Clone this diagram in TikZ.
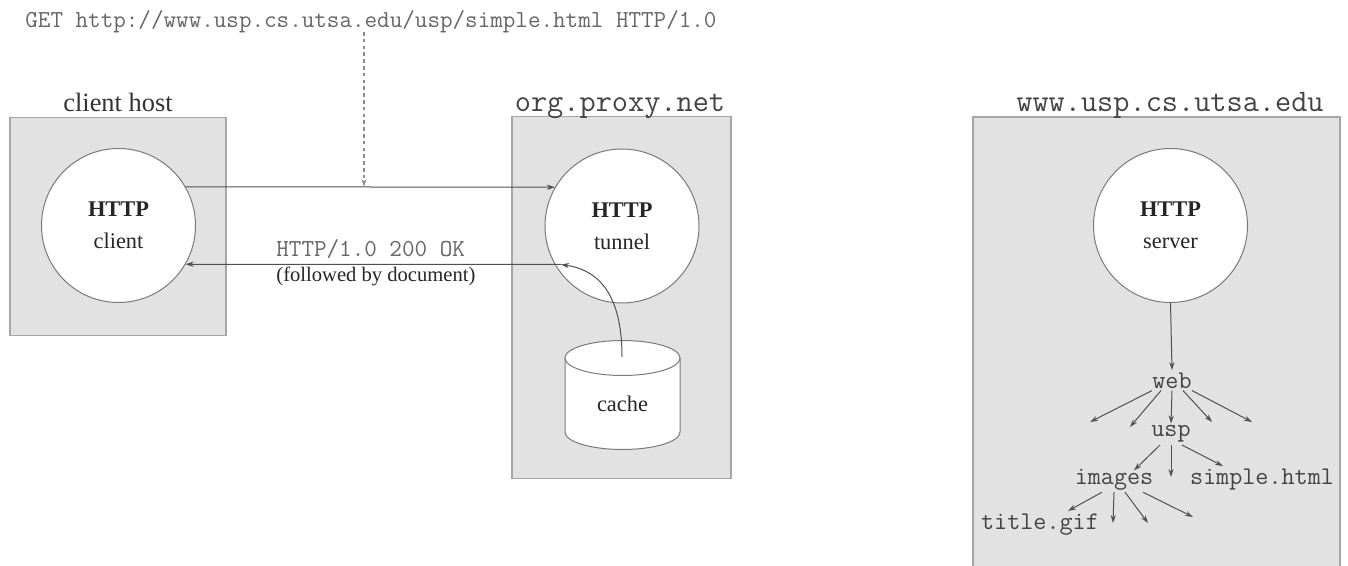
\documentclass[tikz,border=0pt]{standalone}
\usepackage{fontspec}
\setmainfont{Liberation Serif}
\usetikzlibrary{arrows.meta,calc}
\definecolor{boxfill}{HTML}{E2E2E2}
\definecolor{boxline}{HTML}{A6A6A6}
\definecolor{circline}{HTML}{7A7A7A}
\definecolor{lncol}{HTML}{505050}
\definecolor{monotext}{HTML}{666666}
\definecolor{treetext}{HTML}{444444}
\begin{document}
\begin{tikzpicture}[x=0.5pt,y=-0.5pt,
  hostbox/.style={draw=boxline,fill=boxfill,line width=0.6pt,inner sep=0pt},
  proc/.style={circle,draw=circline,fill=white,line width=0.5pt,minimum size=77pt,inner sep=0pt,align=center,text=black!85,font=\fontsize{11.2}{16}\selectfont},
  arr/.style={draw=lncol,line width=0.5pt,-{Stealth[length=4pt,width=2.6pt]}},
  hostlabel/.style={font=\ttfamily\fontsize{15.7}{17}\selectfont,text=treetext,inner sep=0pt,anchor=base},
  tree/.style={font=\ttfamily\fontsize{12.7}{14}\selectfont,text=treetext,inner sep=1pt,anchor=base},
  msg/.style={font=\ttfamily\fontsize{12.2}{13}\selectfont,text=monotext,inner sep=0pt,anchor=base west},
]
\useasboundingbox[fill=white] (0,0) rectangle (1348,566);

% host boxes
\node[hostbox,minimum width=108pt,minimum height=109pt] (cbox) at (118,226.5) {};
\node[hostbox,minimum width=109.5pt,minimum height=181pt] (pbox) at (621.5,297.5) {};
\node[hostbox,minimum width=183.5pt,minimum height=241.5pt] (sbox) at (1156.5,358.5) {};

% host labels
\node[font=\fontsize{13.2}{15}\selectfont,text=black!80,inner sep=0pt,anchor=base] (chl) at (118,112) {client host};
\node[hostlabel] (phl) at (620,112) {org.proxy.net};
\node[hostlabel] (shl) at (1170,112) {www.usp.cs.utsa.edu};

% processes
\node[proc] (client) at (118.5,225.5) {\textbf{HTTP}\\client};
\node[proc] (tunnel) at (622,226) {\textbf{HTTP}\\tunnel};
\node[proc] (server) at (1170.5,225.5) {\textbf{HTTP}\\server};

% cache cylinder
\path[fill=white,draw=circline,line width=0.5pt] (565,358) -- (565,432)
  arc[start angle=180,end angle=360,x radius=28.75pt,y radius=8.75pt] -- (680,358);
\draw[fill=white,draw=circline,line width=0.5pt] (622.5,358) ellipse [x radius=28.75pt,y radius=8.75pt];
\node[font=\fontsize{11.2}{13}\selectfont,text=black!85,inner sep=0pt] (cache) at (622.5,404) {cache};
\coordinate (ctop) at (622,357);

% messages
\node[msg] (get) at (25,28) {GET http://www.usp.cs.utsa.edu/usp/simple.html HTTP/1.0};
\node[msg] (ok) at (276,257) {HTTP/1.0 200 OK};
\node[font=\fontsize{10.3}{12}\selectfont,text=black!85,inner sep=0pt,anchor=base west] (fol) at (276,281.5) {(followed by document)};

% connectors
\draw[arr] (client.30) -- (tunnel.150);
\coordinate (d0) at (364,32);
\draw[draw=gray!90,line width=0.6pt,dash pattern=on 1.8pt off 1.6pt,-{Stealth[length=4pt,width=2.6pt]}] (d0) -- (d0 |- client.30);
\coordinate (P) at (561,264.5);
\draw[arr] (ctop) .. controls (622,305) and (606,271) .. (P);
\draw[arr] (P) -- (client.-30);

% directory tree
\node[tree] (web) at (1172,388) {web};
\node[tree] (usp) at (1171,437) {usp};
\node[tree] (images) at (1114,484) {images};
\node[tree] (simple) at (1262,484) {simple.html};
\node[tree] (title) at (1040,529) {title.gif};

\draw[arr] (server.south) -- (web.north);

\coordinate (w1) at (1090,422);
\coordinate (w2) at (1130,427);
\coordinate (w4) at (1212,422);
\coordinate (w5) at (1252,422);
\draw[arr] ([xshift=-10pt]web.south) -- (w1);
\draw[arr] ([xshift=-5.5pt]web.south) -- (w2);
\draw[arr] (web.south) -- (usp.north);
\draw[arr] ([xshift=5.5pt]web.south) -- (w4);
\draw[arr] ([xshift=10pt]web.south) -- (w5);

\coordinate (u2) at (1171,477);
\draw[arr] ([xshift=-5.5pt]usp.south) -- ([xshift=10pt,yshift=-2pt]images.north);
\draw[arr] (usp.south) -- (u2);
\draw[arr] ([xshift=5.5pt]usp.south) -- ([xshift=-19.5pt]simple.north);

\coordinate (i2) at (1113,523);
\coordinate (i3) at (1148,523);
\coordinate (i4) at (1193,517);
\draw[arr] ([xshift=-6pt]images.south) -- ([xshift=14pt]title.north);
\draw[arr] (images.south) -- (i2);
\draw[arr] ([xshift=5.5pt]images.south) -- (i3);
\draw[arr] ([xshift=14.5pt]images.south) -- (i4);
\end{tikzpicture}
\end{document}
